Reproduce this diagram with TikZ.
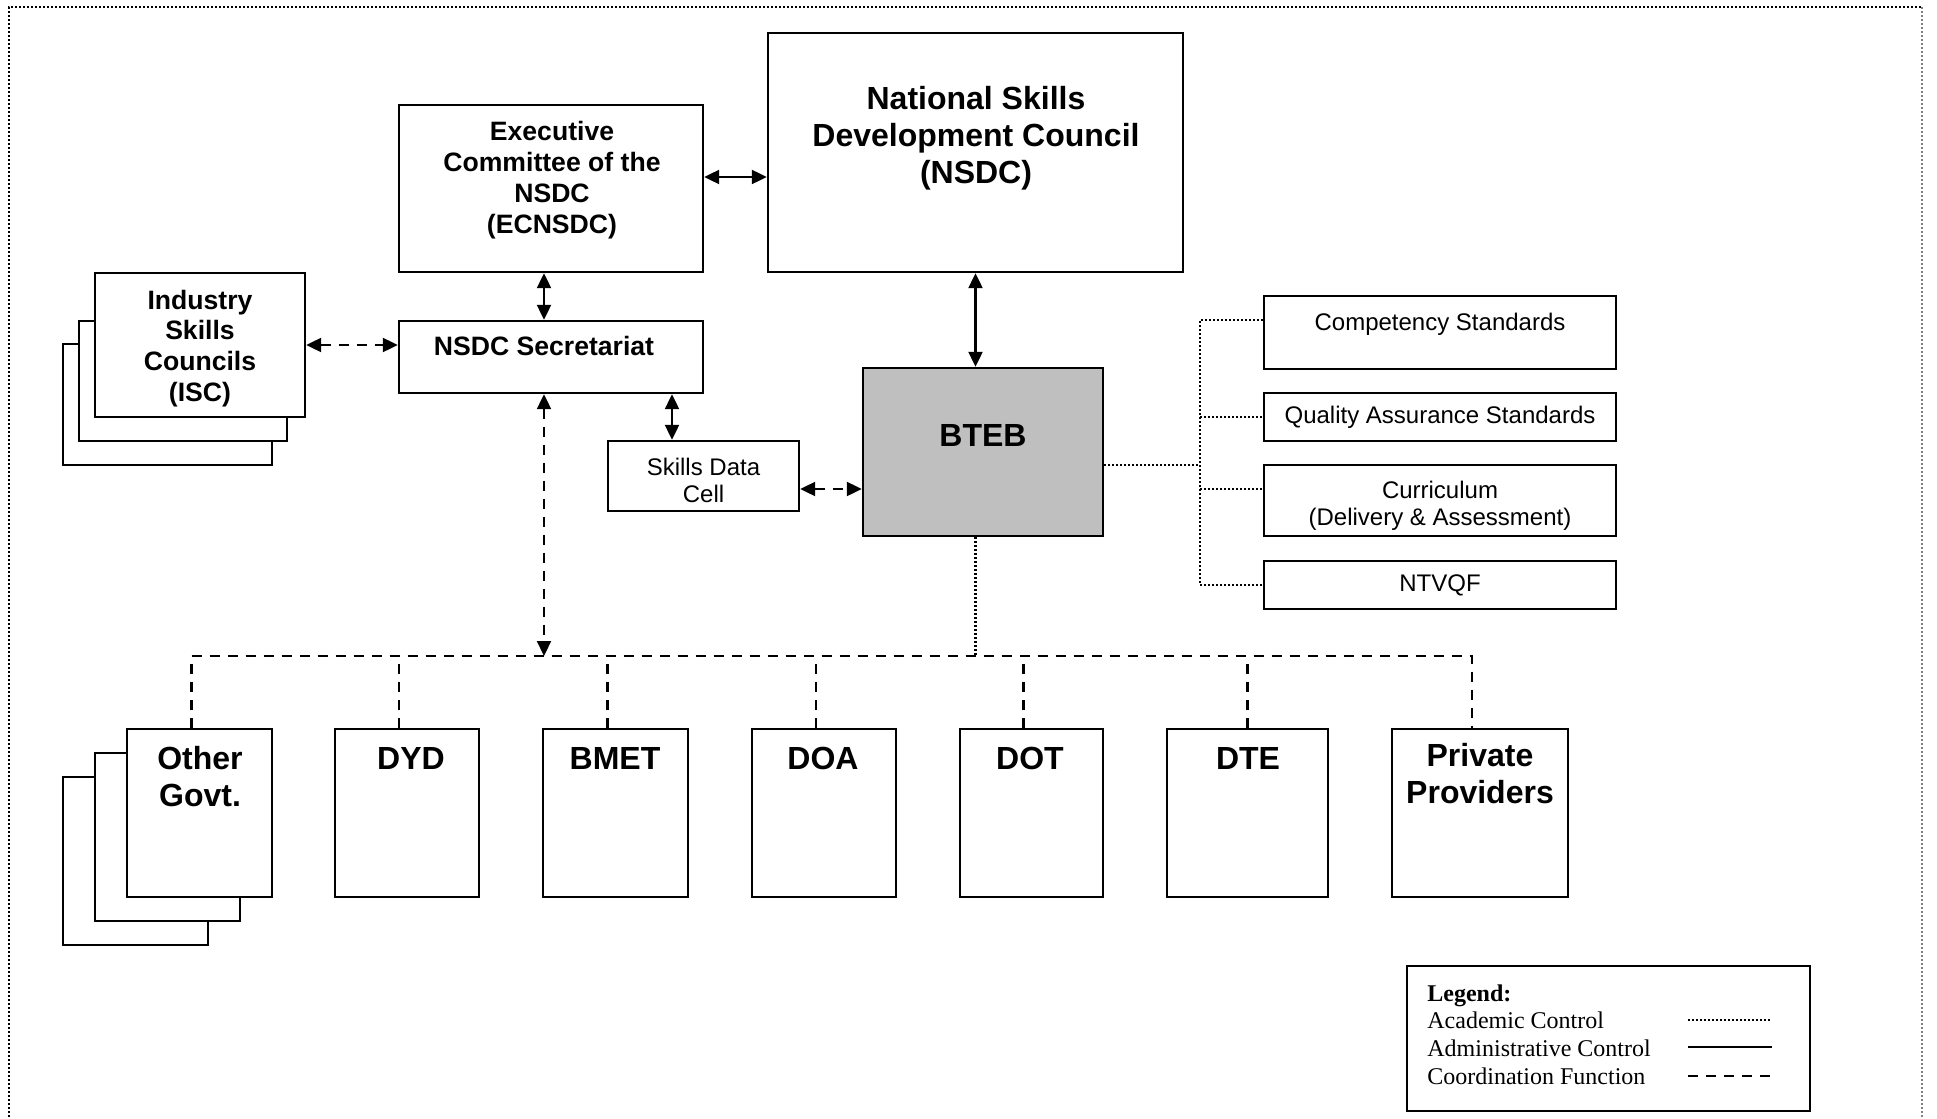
\documentclass[tikz,border=0pt]{standalone}
\usepackage{fontspec}
\setmainfont{Liberation Sans}
\newfontfamily\legendfont{Liberation Serif}
\usetikzlibrary{arrows.meta}
\tikzstyle{box}=[draw,line width=1.2pt,fill=white,inner sep=0pt]
\tikzstyle{shaded box}=[box,fill=black!25]
\tikzstyle{headtxt}=[font=\bfseries\fontsize{16}{18.5}\selectfont,align=center,inner sep=0pt]
\tikzstyle{titletxt}=[font=\bfseries\fontsize{13.3}{15.4}\selectfont,align=center,inner sep=0pt]
\tikzstyle{plaintxt}=[font=\fontsize{12}{13.5}\selectfont,align=center,inner sep=0pt]
\tikzstyle{legtxt}=[font=\legendfont\fontsize{12}{13.8}\selectfont,align=left,inner sep=0pt]
\tikzstyle{admin}=[draw,line width=1.1pt]
\tikzstyle{coordline}=[draw,line width=1.1pt,dash pattern=on 5pt off 4pt]
\tikzstyle{acad}=[draw,line width=1.1pt,dash pattern=on 1pt off 1pt]
\tikzstyle{outer frame}=[draw,line width=1.1pt,dash pattern=on 1pt off 1pt]

\begin{document}
\begin{tikzpicture}[x=0.5pt,y=-0.5pt,>={Triangle[length=7.5pt,width=7pt]}]
    % page and the outer frame
    \path[fill=white] (0,0) rectangle (1937,1117);
    \draw[outer frame] (9,1117) -- (9,7) -- (1922,7);
    \draw[outer frame,gray,line width=0.6pt] (1922,7) -- (1922,1117);

    % First the council level
    \node[box,minimum width=207.5pt,minimum height=119.5pt] (nsdc) at (975.5,152.5) {};
    \node[headtxt] (nsdc-t) at (976,138.5) {National Skills\\Development Council\\(NSDC)};
    \node[box,minimum width=152pt,minimum height=83.5pt] (ecnsdc) at (551,188.5) {};
    \node[titletxt] (ecnsdc-t) at (552,180) {Executive\\Committee of the\\NSDC\\(ECNSDC)};
    \node[box,minimum width=152pt,minimum height=36pt] (sec) at (551,357) {};
    \node[titletxt] (sec-t) at (544,346) {NSDC Secretariat};

    % stacked industry skills councils
    \node[box,minimum width=104.5pt,minimum height=60.5pt] (isc3) at (167.5,404.5) {};
    \node[box,minimum width=104pt,minimum height=60pt] (isc2) at (183,381) {};
    \node[box,minimum width=105pt,minimum height=72pt] (isc) at (200,345) {};
    \node[titletxt] (isc-t) at (200,348.5) {Industry\\Skills\\Councils\\(ISC)};

    \node[box,minimum width=95.5pt,minimum height=35pt] (sdc) at (703.5,476) {};
    \node[plaintxt] (sdc-t) at (703.5,480) {Skills Data\\Cell};
    \node[shaded box,minimum width=120pt,minimum height=84pt] (bteb) at (983,452) {};
    \node[headtxt] (bteb-t) at (983,435) {BTEB};

    % academic side
    \node[box,minimum width=176pt,minimum height=36.5pt] (cs) at (1440,332.5) {};
    \node[plaintxt] (cs-t) at (1440,324.5) {Competency Standards};
    \node[box,plaintxt,minimum width=176pt,minimum height=24pt] (qa) at (1440,417) {Quality Assurance Standards};
    \node[box,minimum width=176pt,minimum height=35.5pt] (cur) at (1440,500.5) {};
    \node[plaintxt] (cur-t) at (1440,505.5) {Curriculum\\(Delivery \& Assessment)};
    \node[box,plaintxt,minimum width=176pt,minimum height=24pt] (ntvqf) at (1440,585) {NTVQF};

    % the bottom row
    \node[box,minimum width=72.5pt,minimum height=84pt] (ogov3) at (135.5,861) {};
    \node[box,minimum width=72.5pt,minimum height=84pt] (ogov2) at (167.5,837) {};
    \foreach \x/\w/\name in {199.5/72.5/ogov, 407/72/dyd, 615.5/72.5/bmet, 824/72/doa, 1031.5/71.5/dot, 1247.5/80.5/dte, 1480/88/priv}
        \node[box,minimum width=\w pt,minimum height=84pt] (\name) at (\x,813) {};
    \foreach \x/\y/\name/\txt in {200/776.5/ogov/{Other\\Govt.}, 411/758/dyd/DYD, 615/758/bmet/BMET, 823/758/doa/DOA, 1030/758/dot/DOT, 1248/758/dte/DTE, 1480/773.5/priv/{Private\\Providers}}
        \node[headtxt] (\name-t) at (\x,\y) {\txt};

    % Connect with administrative links
    \draw[admin,<->] ([yshift=5.75pt]ecnsdc.east) -- ([yshift=5.75pt]ecnsdc.east -| nsdc.west);
    \draw[admin,<->] (sec-t |- ecnsdc.south) -- (sec-t |- sec.north);
    \draw[admin,<->] (nsdc.south) -- (nsdc.south |- bteb.north);
    \draw[admin,<->] ([xshift=-15.75pt]sdc.north |- sec.south) -- ([xshift=-15.75pt]sdc.north);

    % coordination
    \coordinate (bus) at (544,656);
    \draw[coordline,<->] (isc.east) -- (isc.east -| sec.west);
    \draw[coordline,<->] ([yshift=-6.5pt]sdc.east) -- ([yshift=-6.5pt]sdc.east -| bteb.west);
    \draw[coordline,<->] (sec-t |- sec.south) -- (bus);
    \draw[coordline] ([xshift=-4pt]ogov.north) |- (bus) -| ([xshift=-4pt]priv.north);
    \foreach \name/\dx in {dyd/-4, bmet/-4, doa/-4, dot/-4, dte/0}
        \draw[coordline] ([xshift=\dx pt]\name.north) -- ([xshift=\dx pt]\name.north |- bus);

    % academic control
    \coordinate (trunk) at (1200,465);
    \draw[acad] (bteb.east |- trunk) -- (trunk);
    \draw[acad] ([yshift=6.25pt]cs.west) -| (trunk |- ntvqf.west) -- (ntvqf.west);
    \draw[acad] (trunk |- qa.west) -- (qa.west);
    \draw[acad] ([yshift=5.75pt]cur.west -| trunk) -- ([yshift=5.75pt]cur.west);
    \draw[acad] (bteb.south -| nsdc.south) -- (bus -| nsdc.south);

    % legend
    \node[box,minimum width=201.5pt,minimum height=72.5pt] (legend) at (1608.5,1038.5) {};
    \node[legtxt,anchor=west] (legend-t) at (1427,1034.5) {\textbf{Legend:}\\Academic Control\\Administrative Control\\Coordination Function};
    \draw[acad] (1688,1020) -- (1772,1020);
    \draw[admin] (1688,1047) -- (1772,1047);
    \draw[coordline] (1688,1076) -- (1772,1076);
\end{tikzpicture}
\end{document}
